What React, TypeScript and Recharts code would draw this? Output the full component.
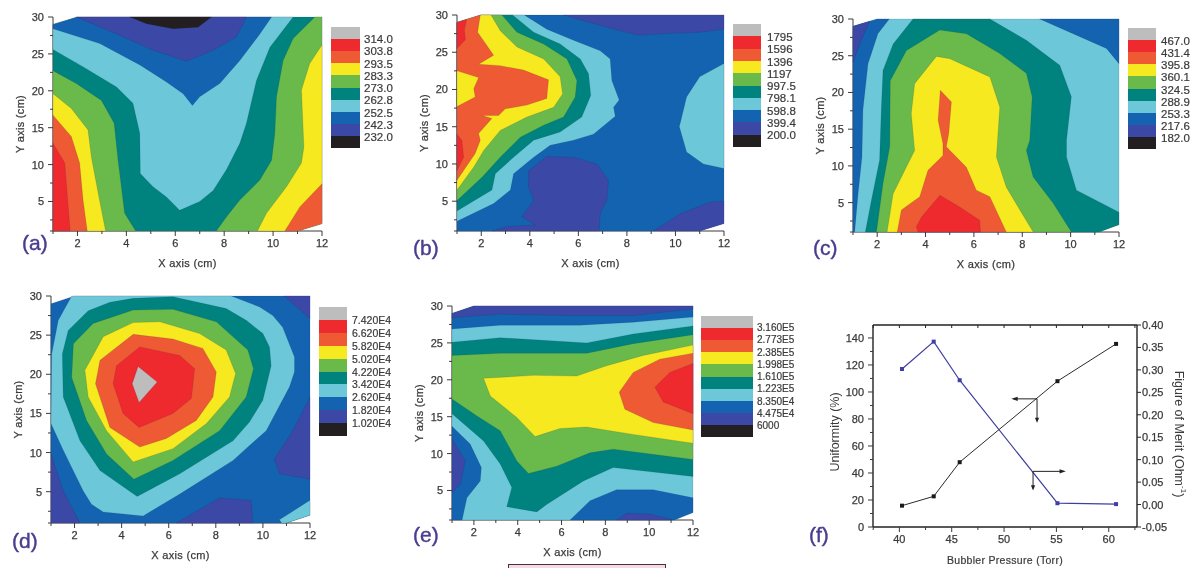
import {
  ComposedChart,
  Line,
  Polygon,
  Scatter,
  ScatterChart,
  XAxis,
  YAxis,
} from "recharts";

const GRAY = "#bdbdbd";
const RED = "#ee2a2f";
const ORANGE = "#ee5a33";
const YELLOW = "#f6e91f";
const GREEN = "#69b94b";
const TEAL = "#00837e";
const CYAN = "#6cc8d9";
const BLUE = "#1363b0";
const INDIGO = "#3b48a6";
const BLACK = "#231f20";
const LEGEND_COLORS = [GRAY, RED, ORANGE, YELLOW, GREEN, TEAL, CYAN, BLUE, INDIGO, BLACK];
const LETTER = "#4a3c8f";
const AXIS = "#3a3a3a";

type Pt = [number, number];
type Band = [string, Pt[]];

// the data area is cut at two corners in every map
const FULL: Pt[] = [[1, 29], [2, 30], [12, 30], [12, 2], [11, 1], [1, 1]];

const bandsA: Band[] = [
  [TEAL, FULL],
  [GREEN, [[1, 22.7], [1.95, 21], [2.98, 18.7], [3.5, 15.6], [3.66, 10.6], [3.93, 3.4], [4.38, 1], [1, 1]]],
  [YELLOW, [[1, 19.6], [1.75, 17.6], [2.43, 14.7], [2.57, 11], [2.9, 5.2], [3.15, 1], [1, 1]]],
  [ORANGE, [[1, 16.7], [1.75, 13.8], [2.09, 10.2], [2.23, 5.2], [2.4, 1], [1, 1]]],
  [RED, [[1, 12.9], [1.48, 10.2], [1.6, 5.2], [1.7, 1], [1, 1]]],
  [GREEN, [[11.71, 30], [10.82, 27.1], [10.41, 24.1], [10.14, 19.2], [10.07, 14.2], [9.94, 10.6], [9.46, 7.9], [8.64, 5.2], [8.09, 2.9], [7.68, 1], [11, 1], [12, 2], [12, 30]]],
  [YELLOW, [[12, 26.2], [11.5, 23.7], [11.16, 20.1], [11.26, 12.4], [11.16, 10.2], [10.55, 7], [9.73, 3.4], [9.36, 1], [11, 1], [12, 2]]],
  [ORANGE, [[12, 7.4], [11.1, 4.3], [10.48, 1], [11, 1], [12, 2]]],
  [CYAN, [[1, 25.6], [2.36, 23], [3.6, 20.5], [4.27, 18.3], [4.55, 14.2], [4.57, 8.8], [5.09, 7], [5.64, 5.6], [6.18, 3.8], [7, 5], [7.55, 6.5], [8.09, 9.3], [8.64, 12.9], [8.91, 15.6], [9.32, 21.4], [9.87, 25.9], [10.82, 30], [2, 30], [1, 29]]],
  [BLUE, [[1, 28.4], [2.91, 26.4], [4.55, 23.5], [5.64, 21.2], [6.32, 19.6], [6.7, 18], [7, 19.2], [7.82, 21], [8.64, 24.1], [9.46, 27.7], [9.94, 30], [2, 30], [1, 29]]],
  [INDIGO, [[1.95, 30], [3.6, 27.7], [5.09, 25.5], [6.46, 24], [7.55, 25.5], [8.5, 27.3], [8.91, 30]]],
  [BLACK, [[4.14, 30], [4.82, 29.1], [5.91, 28.4], [6.93, 28.6], [7.48, 30]]],
];

const bandsB: Band[] = [
  [BLUE, FULL],
  [INDIGO, [[5.39, 30], [6.9, 28.6], [8.41, 27.3], [9.64, 27.5], [11, 27.7], [12, 28.1], [12, 30]]],
  [INDIGO, [[2.44, 1], [3.06, 1.6], [4.22, 1.8], [3.67, 2.9], [4.16, 5.1], [3.95, 6.9], [3.95, 9.1], [4.7, 11], [5.8, 10.9], [6.76, 10], [7.24, 7.8], [7.17, 5.1], [6.9, 3.3], [6.86, 1]]],
  [INDIGO, [[9.09, 1], [10.19, 3.3], [11.43, 4.9], [12, 5], [12, 2], [11, 1]]],
  [CYAN, [[12, 23.5], [11, 21.7], [10.46, 19], [10.16, 15], [10.46, 11.6], [11.15, 10], [12, 9.4]]],
  [CYAN, [[3.77, 30], [4.7, 28.1], [5.8, 26.6], [6.9, 25.2], [7.31, 24.1], [7.38, 21.2], [7.68, 18.6], [7.45, 17.6], [7.52, 16.4], [6.62, 14], [5.8, 13.2], [4.84, 12.5], [4.16, 10.9], [3.33, 8.7], [3.2, 6.5], [2.51, 4.7], [1, 2.3], [1, 29], [2, 30]]],
  [TEAL, [[3.29, 30], [4.16, 27.7], [5.25, 26.1], [6.08, 24.1], [6.42, 22.1], [6.51, 19.2], [6.14, 16.3], [5.25, 14.3], [4.16, 13.2], [3.33, 10.9], [2.58, 8.7], [2.44, 6.5], [1, 3.7], [1, 29], [2, 30]]],
  [GREEN, [[2.85, 30], [3.47, 27.7], [4.57, 26.1], [5.53, 24.1], [5.94, 21.2], [5.87, 19], [5.39, 16.3], [4.57, 15.2], [3.61, 13.6], [2.78, 10.9], [2.03, 8.2], [1, 5.1], [1, 29], [2, 30]]],
  [YELLOW, [[2.4, 30], [2.78, 27.9], [3.47, 25.7], [4.57, 24.1], [5.25, 21.7], [5.35, 19.4], [4.98, 17.6], [3.88, 16.3], [2.78, 14.5], [2.1, 11.8], [1.69, 9.6], [1, 6.5], [1, 29], [2, 30]]],
  [ORANGE, [[1.96, 30], [1.85, 27.7], [2.51, 24.6], [1.89, 23.4], [2.78, 23.2], [3.74, 22.6], [4.77, 21.3], [4.7, 18.8], [3.88, 17.9], [2.99, 17.4], [2.71, 16.5], [2.03, 16.5], [2.44, 16.1], [1.89, 14.1], [1.96, 13.2], [1.75, 11.4], [1, 7.8], [1, 29]]],
  [YELLOW, [[1, 22.5], [1.89, 21.6], [1.69, 20.1], [1.75, 19], [1, 17.7]]],
  [RED, [[1, 29], [1.4, 29.4], [1.3, 28], [1.35, 26.7], [1, 25.5]]],
  [RED, [[1, 14], [1.2, 13.2], [1.27, 10.9], [1, 9.1]]],
];

const bandsC: Band[] = [
  [CYAN, FULL],
  [BLUE, [[2, 30], [2.5, 30], [2.03, 28], [1.62, 23.9], [1.41, 17.6], [1.37, 11.2], [1.21, 6.2], [1.07, 1], [1, 1], [1, 29]]],
  [INDIGO, [[1, 29], [1.69, 29.7], [1.34, 27.1], [1, 24.1]]],
  [BLUE, [[8.72, 30], [10.24, 27.8], [11.48, 26], [12, 23.9], [12, 30]]],
  [TEAL, [[1.51, 1], [1.76, 5.3], [2.1, 10.8], [2.17, 17.6], [2.24, 23], [2.66, 26.6], [3.48, 30], [6.66, 30], [8.17, 27.1], [9.55, 23.7], [10.03, 19.4], [9.83, 13.5], [9.83, 11.2], [10.24, 6.7], [12, 3.7], [12, 2], [11.2, 1]]],
  [GREEN, [[1.97, 1], [2.24, 7.6], [2.52, 12.6], [2.54, 21.6], [3.21, 25.7], [4.59, 28.5], [5.69, 28], [7.07, 25.3], [8.17, 22.6], [8.41, 19.4], [8.31, 13.5], [8.17, 12.1], [8.45, 8.5], [9.28, 4.9], [10.03, 1]]],
  [YELLOW, [[2.41, 1], [2.66, 6.2], [3.55, 12.1], [3.41, 17.1], [3.55, 21.2], [4.45, 24.9], [5, 24.6], [6.66, 22.1], [7.07, 18], [6.93, 11.2], [7.34, 7.1], [7.9, 4], [8.45, 1]]],
  [ORANGE, [[2.83, 1], [3, 4], [3.76, 5.8], [4.1, 9.4], [4.72, 11.4], [4.72, 13], [4.52, 16.2], [4.61, 20.3], [5.07, 18.7], [4.96, 14.4], [4.86, 12.6], [5.69, 9.8], [6.1, 6.7], [6.66, 5.8], [7.34, 1]]],
  [RED, [[3.69, 1], [3.62, 1.7], [3.83, 3], [4.59, 6], [5.41, 4.4], [6.24, 2.6], [6.27, 1]]],
];

const bandsD: Band[] = [
  [BLUE, FULL],
  [INDIGO, [[1, 9.8], [1.52, 5.1], [2.23, 1], [1, 1]]],
  [INDIGO, [[10.9, 30], [12, 27.1], [12, 30]]],
  [INDIGO, [[12, 17.1], [11.27, 12.8], [10.49, 9.2], [10.7, 7.3], [12, 6.6]]],
  [INDIGO, [[6.32, 1], [8.16, 4.2], [9.5, 3.9], [9.57, 1]]],
  [CYAN, [[10.7, 1.4], [12, 3.9], [12, 2], [11, 1], [10.8, 1]]],
  [CYAN, [[1.88, 30], [1.31, 26.9], [1.03, 22.6], [1, 13.7], [1.52, 10.3], [2.37, 5.1], [2.72, 3.4], [3.22, 2.4], [4.91, 1.9], [6.47, 4.7], [8.73, 9], [9.43, 10.9], [10.14, 12.8], [11.13, 18.4], [11.34, 20.3], [11.34, 22.2], [10.84, 26], [10.42, 27.5], [9.86, 28.6], [8.66, 30]]],
  [TEAL, [[3.5, 29.2], [2.58, 28.1], [1.73, 25.6], [1.48, 22.6], [1.52, 17.1], [2.23, 11.5], [3.08, 7.7], [4.66, 4.4], [6.47, 7.3], [8.73, 11.5], [9.43, 13.9], [10, 16.7], [10.35, 21.1], [10.28, 23.5], [10, 25.2], [9.29, 26.9], [8.44, 28.4], [6.18, 29.9], [4.49, 29.7]]],
  [GREEN, [[1.95, 23.9], [1.88, 19.6], [2.51, 14.1], [3.36, 9.8], [4.52, 6.6], [6.18, 9], [8.16, 12.8], [9.29, 17.1], [9.6, 20.7], [9.36, 23.1], [8.02, 26.7], [6.18, 28.3], [4.49, 28.2], [2.79, 26.5]]],
  [YELLOW, [[2.44, 20.5], [2.58, 17.1], [3.36, 12.8], [4.49, 8.8], [6.18, 10.5], [7.6, 13.7], [8.58, 17.1], [8.84, 20.1], [8.44, 23.1], [7.31, 25.2], [5.62, 26.7], [4.49, 26.6], [3.22, 24.8]]],
  [ORANGE, [[4.49, 25.1], [3.08, 21.8], [2.89, 18.8], [3.5, 13.2], [4.77, 10.7], [5.9, 11.8], [7.17, 14.1], [7.88, 17.1], [8.02, 20.3], [7.45, 23.3], [6.18, 24.5]]],
  [RED, [[4.77, 23.5], [3.78, 21.1], [3.64, 18.8], [4.06, 15], [4.74, 13.2], [6.18, 15], [6.96, 16.9], [7.1, 20.7], [6.47, 22.4]]],
  [GRAY, [[4.7, 21], [5.51, 19], [4.74, 16.4], [4.45, 18.8]]],
];

const bandsE: Band[] = [
  [CYAN, FULL],
  [BLUE, [[1, 26.9], [3.2, 27.4], [6.84, 27.4], [9.27, 27.8], [12, 28.5], [12, 30], [2, 30], [1, 29]]],
  [INDIGO, [[1, 28.4], [3.2, 28.9], [6.24, 28.7], [9.27, 28.7], [12, 29.6], [12, 30], [2, 30], [1, 29]]],
  [TEAL, [[1, 25.1], [3.2, 25.7], [7.15, 25], [9.27, 26.2], [12, 27.3], [12, 6.9], [8.36, 8.1], [7, 6.3], [5.32, 3.1], [4.87, 2.1], [3.5, 2.8], [3.73, 5.4], [3.2, 8.6], [2.44, 11.7], [1, 15.4]]],
  [GREEN, [[1, 23.3], [3.2, 23.6], [7.15, 23.6], [9.27, 24.9], [12, 26.1], [12, 9.2], [8.36, 10.6], [7.3, 10.1], [5.78, 8.3], [4.49, 7.3], [3.96, 9], [3.2, 13.1], [2.14, 15.1], [1, 17.4]]],
  [YELLOW, [[2.44, 20.2], [4.72, 20.6], [6.69, 20.5], [8.06, 21.9], [9.73, 23.3], [12, 24.7], [12, 11.4], [9.27, 12.6], [7.15, 13.6], [5.93, 13.4], [4.79, 12.3], [3.96, 14.9], [2.75, 17.8]]],
  [ORANGE, [[12, 23.6], [10.48, 22.8], [9.27, 21], [8.63, 18.3], [8.89, 16], [10.18, 14.2], [12, 13.2]]],
  [RED, [[12, 22.2], [10.94, 21], [10.26, 19], [10.64, 17], [12, 15.4]]],
  [BLUE, [[1, 13.7], [1.83, 11.3], [2.34, 8.1], [2.29, 6.3], [1.68, 4], [1.46, 1], [1, 1]]],
  [INDIGO, [[1, 12], [1.61, 9], [1.38, 5.8], [1, 4.7]]],
  [BLUE, [[6.39, 1], [7.3, 3.6], [8.51, 5.1], [10.18, 5.1], [12, 4], [12, 2], [11.17, 1]]],
  [INDIGO, [[8.51, 1], [8.97, 1.9], [10.03, 1.8], [11.09, 1]]],
];

const levelsA = ["314.0", "303.8", "293.5", "283.3", "273.0", "262.8", "252.5", "242.3", "232.0"];
const levelsB = ["1795", "1596", "1396", "1197", "997.5", "798.1", "598.8", "399.4", "200.0"];
const levelsC = ["467.0", "431.4", "395.8", "360.1", "324.5", "288.9", "253.3", "217.6", "182.0"];
const levelsD = ["7.420E4", "6.620E4", "5.820E4", "5.020E4", "4.220E4", "3.420E4", "2.620E4", "1.820E4", "1.020E4"];
const levelsE = ["3.160E5", "2.773E5", "2.385E5", "1.998E5", "1.610E5", "1.223E5", "8.350E4", "4.475E4", "6000"];

const mapXTicks = [1, 2, 3, 4, 5, 6, 7, 8, 9, 10, 11, 12];
const mapXLabels = [2, 4, 6, 8, 10, 12];
const mapYTicks = [1, 2.5, 5, 7.5, 10, 12.5, 15, 17.5, 20, 22.5, 25, 27.5, 30];
const mapYLabels = [5, 10, 15, 20, 25, 30];

// panel (f)
const uniformity = [
  { x: 40.25, y: 15.8 },
  { x: 43.28, y: 22.7 },
  { x: 45.76, y: 48 },
  { x: 55.1, y: 108 },
  { x: 60.7, y: 135.6 },
];
const figureOfMerit = [
  { x: 40.25, y: 0.302 },
  { x: 43.28, y: 0.363 },
  { x: 45.76, y: 0.277 },
  { x: 55.1, y: 0.003 },
  { x: 60.7, y: 0.001 },
];
const pressureTicks = [37.5, 40, 42.5, 45, 47.5, 50, 52.5, 55, 57.5, 60, 62.5];
const pressureLabels = [40, 45, 50, 55, 60];
const uniformityTicks = [0, 10, 20, 30, 40, 50, 60, 70, 80, 90, 100, 110, 120, 130, 140];
const uniformityLabels = [0, 20, 40, 60, 80, 100, 120, 140];
const meritTicks = [-0.05, 0, 0.05, 0.1, 0.15, 0.2, 0.25, 0.3, 0.35, 0.4];

const arrowUniformity = [{ x: 50.9, y: 94.9 }, { x: 53.15, y: 94.9 }, { x: 53.15, y: 78.4 }];
const arrowUniformityHeadA = [{ x: 50.7, y: 94.9 }, { x: 51.3, y: 96.4 }, { x: 51.3, y: 93.4 }];
const arrowUniformityHeadB = [{ x: 53.15, y: 77.2 }, { x: 52.95, y: 81 }, { x: 53.35, y: 81 }];
const arrowMerit = [{ x: 55.6, y: 41.2 }, { x: 52.77, y: 41.2 }, { x: 52.77, y: 28.3 }];
const arrowMeritHeadA = [{ x: 55.9, y: 41.2 }, { x: 55.3, y: 42.7 }, { x: 55.3, y: 39.7 }];
const arrowMeritHeadB = [{ x: 52.77, y: 27 }, { x: 52.57, y: 31 }, { x: 52.97, y: 31 }];

const FONT = "'Liberation Sans', Arial, sans-serif";

function toPoints(pts: Pt[]) {
  return pts.map(([x, y]) => ({ x, y }));
}

function noShape() {
  return <g />;
}

function xTick(labels: number[]) {
  return (p: any) => {
    const major = labels.includes(p.payload.value);
    return (
      <g>
        <line x1={p.x} y1={p.y} x2={p.x} y2={p.y + (major ? 5 : 3)} stroke={AXIS} />
        {major && (
          <text x={p.x} y={p.y + 16} textAnchor="middle" fontSize={11} fontFamily={FONT} fill={AXIS} stroke={AXIS} strokeWidth={0.25}>
            {p.payload.value}
          </text>
        )}
      </g>
    );
  };
}

function yTick(labels: number[]) {
  return (p: any) => {
    const major = labels.includes(p.payload.value);
    return (
      <g>
        <line x1={p.x} y1={p.y} x2={p.x - (major ? 5 : 3)} y2={p.y} stroke={AXIS} />
        {major && (
          <text x={p.x - 9} y={p.y + 4} textAnchor="end" fontSize={11} fontFamily={FONT} fill={AXIS} stroke={AXIS} strokeWidth={0.25}>
            {p.payload.value}
          </text>
        )}
      </g>
    );
  };
}

interface MapProps {
  left: number;
  top: number;
  width: number;
  height: number;
  bands: Band[];
}

function ContourMap({ left, top, width, height, bands }: MapProps) {
  const axisW = 48;
  const axisH = 40;
  return (
    <div style={{ position: "absolute", left: left - axisW, top: top - 6 }}>
      <ScatterChart
        width={width + axisW + 10}
        height={height + axisH + 6}
        margin={{ top: 6, right: 10, left: 0, bottom: 0 }}
      >
        <XAxis
          type="number"
          dataKey="x"
          domain={[1, 12]}
          ticks={mapXTicks}
          interval={0}
          height={axisH}
          tickSize={0}
          tickMargin={0}
          tickLine={false}
          tick={xTick(mapXLabels)}
          stroke={AXIS}
          label={{
            value: "X axis (cm)",
            position: "insideBottom",
            offset: 4,
            style: { fontSize: 11, fontFamily: FONT, fill: AXIS, stroke: AXIS, strokeWidth: 0.25, letterSpacing: 0.3 },
          }}
        />
        <YAxis
          type="number"
          dataKey="y"
          domain={[1, 30]}
          ticks={mapYTicks}
          interval={0}
          width={axisW}
          tickSize={0}
          tickMargin={0}
          tickLine={false}
          tick={yTick(mapYLabels)}
          stroke={AXIS}
          label={{
            value: "Y axis (cm)",
            angle: -90,
            position: "insideLeft",
            offset: 15,
            style: { textAnchor: "middle", fontSize: 11, fontFamily: FONT, fill: AXIS, stroke: AXIS, strokeWidth: 0.25, letterSpacing: 0.3 },
          }}
        />
        {bands.map(([color, pts], i) => (
          <Scatter
            key={i}
            data={toPoints(pts)}
            isAnimationActive={false}
            shape={noShape}
            line={(p: any) => (
              <Polygon points={p.points} fill={color} stroke="rgba(30,30,70,0.22)" strokeWidth={0.6} />
            )}
          />
        ))}
      </ScatterChart>
    </div>
  );
}

interface LegendProps {
  left: number;
  width: number;
  top: number;
  bottom: number;
  labelLeft: number;
  firstY: number;
  lastY: number;
  fontSize: number;
  levels: string[];
}

function ColorScale({ left, width, top, bottom, labelLeft, firstY, lastY, fontSize, levels }: LegendProps) {
  const cell = (bottom - top) / LEGEND_COLORS.length;
  const step = (lastY - firstY) / (levels.length - 1);
  return (
    <>
      {LEGEND_COLORS.map((c, i) => (
        <div
          key={c}
          style={{
            position: "absolute",
            left,
            width,
            top: top + i * cell,
            height: cell + 0.5,
            background: c,
          }}
        />
      ))}
      {levels.map((t, i) => (
        <div
          key={t}
          style={{
            position: "absolute",
            left: labelLeft,
            top: firstY + i * step - 7,
            height: 14,
            lineHeight: "14px",
            fontSize,
            fontFamily: FONT,
            color: AXIS,
            WebkitTextStroke: "0.2px #3a3a3a",
          }}
        >
          {t}
        </div>
      ))}
    </>
  );
}

function PanelLetter({ left, centerY, text }: { left: number; centerY: number; text: string }) {
  return (
    <div
      style={{
        position: "absolute",
        left,
        top: centerY - 13,
        height: 26,
        lineHeight: "26px",
        fontSize: 21,
        fontFamily: FONT,
        color: LETTER,
        WebkitTextStroke: "0.4px #4a3c8f",
      }}
    >
      {text}
    </div>
  );
}

function squareDot(color: string, size: number) {
  return (p: any) => (
    <rect key={p.index} x={p.cx - size / 2} y={p.cy - size / 2} width={size} height={size} fill={color} />
  );
}

function PressureChart() {
  const left = 873;
  const top = 325;
  const plotW = 264;
  const plotH = 202;
  const leftW = 50;
  const rightW = 50;
  const arrows = [arrowUniformity, arrowMerit];
  const heads = [arrowUniformityHeadA, arrowUniformityHeadB, arrowMeritHeadA, arrowMeritHeadB];
  return (
    <div style={{ position: "absolute", left: left - leftW, top: top - 6 }}>
      <ComposedChart
        width={plotW + leftW + rightW}
        height={plotH + 6 + 30}
        margin={{ top: 5, right: 0, left: 0, bottom: 0 }}
      >
        <XAxis
          xAxisId="bottom"
          type="number"
          dataKey="x"
          domain={[37.48, 62.7]}
          ticks={pressureTicks}
          interval={0}
          height={30}
          tickSize={0}
          tickMargin={0}
          tickLine={false}
          tick={xTick(pressureLabels)}
          stroke="#222"
          strokeWidth={1.4}
          allowDataOverflow
        />
        <XAxis
          xAxisId="top"
          orientation="top"
          type="number"
          dataKey="x"
          domain={[37.48, 62.7]}
          ticks={pressureTicks}
          interval={0}
          height={1}
          tickSize={0}
          tickMargin={0}
          tickLine={false}
          tick={(p: any) => <line x1={p.x} y1={p.y} x2={p.x} y2={p.y + 3} stroke="#222" />}
          stroke="#222"
          strokeWidth={1.4}
          allowDataOverflow
        />
        <YAxis
          yAxisId="left"
          type="number"
          dataKey="y"
          domain={[0, 149.6]}
          ticks={uniformityTicks}
          interval={0}
          width={leftW}
          tickSize={0}
          tickMargin={0}
          tickLine={false}
          tick={yTick(uniformityLabels)}
          stroke="#222"
          strokeWidth={1.4}
          allowDataOverflow
        />
        <YAxis
          yAxisId="right"
          orientation="right"
          type="number"
          dataKey="y"
          domain={[-0.05, 0.4]}
          ticks={meritTicks}
          interval={0}
          width={rightW}
          tickSize={0}
          tickMargin={0}
          tickLine={false}
          tick={(p: any) => (
            <g>
              <line x1={p.x} y1={p.y} x2={p.x + 4} y2={p.y} stroke="#222" />
              <text x={p.x + 5} y={p.y + 4} fontSize={11} fontFamily={FONT} fill={AXIS} stroke={AXIS} strokeWidth={0.25}>
                {Number(p.payload.value).toFixed(2)}
              </text>
            </g>
          )}
          stroke="#222"
          strokeWidth={1.4}
          allowDataOverflow
        />
        <Line
          xAxisId="bottom"
          yAxisId="left"
          data={uniformity}
          dataKey="y"
          stroke="#2b2b2b"
          strokeWidth={1}
          dot={squareDot("#1a1a1a", 4)}
          isAnimationActive={false}
        />
        <Line
          xAxisId="bottom"
          yAxisId="right"
          data={figureOfMerit}
          dataKey="y"
          stroke="#3f3f9f"
          strokeWidth={1.2}
          dot={squareDot("#3f3fa8", 4)}
          isAnimationActive={false}
        />
        {arrows.map((d, i) => (
          <Scatter
            key={`shaft-${i}`}
            xAxisId="bottom"
            yAxisId="left"
            data={d}
            isAnimationActive={false}
            shape={noShape}
            line={{ stroke: "#222", strokeWidth: 1 }}
          />
        ))}
        {heads.map((d, i) => (
          <Scatter
            key={`head-${i}`}
            xAxisId="bottom"
            yAxisId="left"
            data={d}
            isAnimationActive={false}
            shape={noShape}
            line={(p: any) => <Polygon points={p.points} fill="#222" stroke="none" />}
          />
        ))}
      </ComposedChart>
    </div>
  );
}

export default function App() {
  return (
    <div
      style={{
        position: "absolute",
        left: 0,
        top: 0,
        width: 1200,
        height: 568,
        overflow: "hidden",
        background: "#fff",
        filter: "blur(0.4px)",
      }}
    >
      <ContourMap left={53} top={17} width={269} height={214} bands={bandsA} />
      <ColorScale left={331} width={29} top={27} bottom={148} labelLeft={364} firstY={39} lastY={137} fontSize={11.5} levels={levelsA} />
      <PanelLetter left={22} centerY={243} text="(a)" />

      <ContourMap left={457} top={15} width={267} height={216} bands={bandsB} />
      <ColorScale left={733} width={28} top={24} bottom={147} labelLeft={767} firstY={37} lastY={135} fontSize={11.5} levels={levelsB} />
      <PanelLetter left={413} centerY={248} text="(b)" />

      <ContourMap left={853} top={19} width={266} height={213} bands={bandsC} />
      <ColorScale left={1128} width={28} top={28} bottom={149} labelLeft={1161} firstY={41} lastY={138} fontSize={11.5} levels={levelsC} />
      <PanelLetter left={813} centerY={248} text="(c)" />

      <ContourMap left={51} top={296} width={259} height={227} bands={bandsD} />
      <ColorScale left={319} width={28} top={307} bottom={436} labelLeft={352} firstY={320} lastY={423} fontSize={10.5} levels={levelsD} />
      <PanelLetter left={12} centerY={541} text="(d)" />

      <ContourMap left={452} top={306} width={241} height={214} bands={bandsE} />
      <ColorScale left={701} width={52} top={316} bottom={437} labelLeft={757} firstY={328} lastY={426} fontSize={10} levels={levelsE} />
      <PanelLetter left={413} centerY={535} text="(e)" />

      <PressureChart />
      <PanelLetter left={809} centerY={535} text="(f)" />
      <div
        style={{
          position: "absolute",
          left: 835,
          top: 432,
          transform: "translate(-50%, -50%) rotate(-90deg)",
          whiteSpace: "nowrap",
          fontSize: 12.5,
          fontFamily: FONT,
          color: AXIS,
        }}
      >
        Uniformity (%)
      </div>
      <div
        style={{
          position: "absolute",
          left: 1180,
          top: 434,
          transform: "translate(-50%, -50%) rotate(90deg)",
          whiteSpace: "nowrap",
          fontSize: 12.5,
          fontFamily: FONT,
          color: AXIS,
        }}
      >
        Figure of Merit (Ohm<sup style={{ fontSize: 8 }}>-1</sup>)
      </div>
      <div
        style={{
          position: "absolute",
          left: 1005,
          top: 560,
          transform: "translate(-50%, -50%)",
          whiteSpace: "nowrap",
          fontSize: 10.5,
          fontFamily: FONT,
          color: AXIS,
          letterSpacing: 0.3,
          WebkitTextStroke: "0.2px #3a3a3a",
        }}
      >
        Bubbler Pressure (Torr)
      </div>

      {/* empty pink caption box cut off by the bottom edge */}
      <div
        style={{
          position: "absolute",
          left: 508,
          top: 564,
          width: 158,
          height: 12,
          boxSizing: "border-box",
          border: "1px solid #4a3038",
          background: "#f6d9e6",
        }}
      />
    </div>
  );
}
